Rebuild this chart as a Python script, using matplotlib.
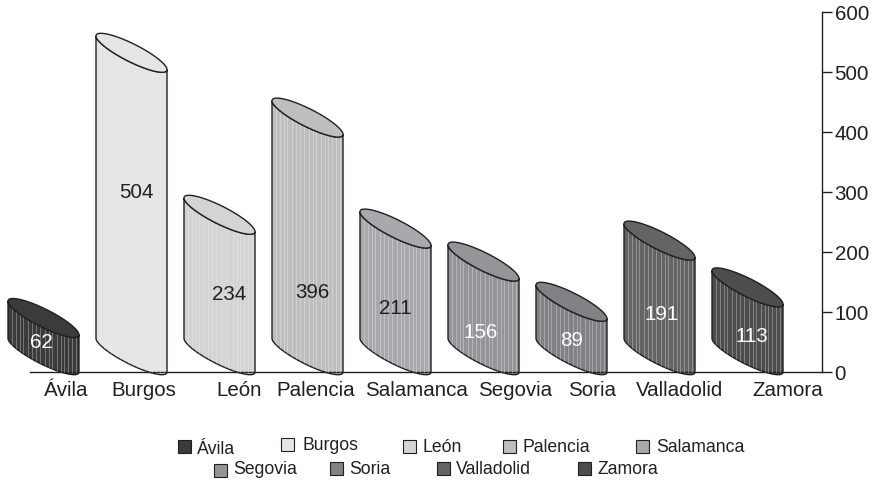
import numpy as np
import matplotlib.pyplot as plt
from matplotlib.patches import Polygon, Rectangle

plt.rcParams['font.family'] = ['Liberation Sans', 'DejaVu Sans']

# datos
provincias = ['Ávila', 'Burgos', 'León', 'Palencia', 'Salamanca', 'Segovia', 'Soria', 'Valladolid', 'Zamora']
valores = [62, 504, 234, 396, 211, 156, 89, 191, 113]
colores = ['#3b3b3c', '#e4e5e7', '#d3d4d6', '#bcbec0', '#a7a9ac', '#939598', '#808285', '#636466', '#4d4d4f']
colores_texto = ['white', '#231f20', '#231f20', '#231f20', '#231f20', 'white', 'white', 'white', 'white']
ticks_y = [0, 100, 200, 300, 400, 500, 600]

W, H = 874, 481
fig = plt.figure(figsize=(W / 100, H / 100), dpi=100)
ax = fig.add_axes([30 / W, 1 - 373 / H, 792 / W, 360 / H])
ax.set_xlim((30 - 43.5) / 88, (822 - 43.5) / 88)
ax.set_ylim(0, 600)

semi_ancho = 35.5 / 88   # medio ancho de la barra
inclinacion = 56 / 2     # la elipse baja hacia la derecha
menor = 16.5
t = np.linspace(0, 2 * np.pi, 121)
t_abajo = np.linspace(np.pi, 2 * np.pi, 61)
rayas = np.array([-0.88, -0.77, -0.66, -0.57, -0.44, -0.33, -0.2, -0.1, 0.03, 0.15, 0.25, 0.37, 0.48, 0.58, 0.7, 0.81, 0.92])

def elipse(c, base, tt):
    return c + semi_ancho * np.cos(tt), base + inclinacion * (1 - np.cos(tt)) + menor * np.sin(tt)

for i, (v, col) in enumerate(zip(valores, colores)):
    xb, yb = elipse(i, 0, t_abajo)
    xt, yt = elipse(i, v, t_abajo[::-1])
    cuerpo = Polygon(np.column_stack([np.r_[xb, xt], np.r_[yb, yt]]), closed=True,
                     fc=col, ec='#231f20', lw=1.0, clip_on=False, zorder=2)
    ax.add_patch(cuerpo)
    # rayas verticales del cilindro
    tono = 'white' if i not in (1, 2) else '#f1f2f3'
    for r in rayas:
        ax.plot([i + r * semi_ancho] * 2, [0, 600], color=tono, lw=0.7, alpha=0.3,
                clip_path=cuerpo, zorder=3)
    xe, ye = elipse(i, v, t)
    ax.add_patch(Polygon(np.column_stack([xe, ye]), closed=True, fc=col, ec='#231f20', lw=1.0,
                         clip_on=False, zorder=4))

# etiquetas de valor (posicion en px)
x_valor = [41, 136, 229, 312, 395, 481, 572, 662, 752]
y_valor = [343, 193, 295, 292, 309, 332, 341, 315, 337]
for i, v in enumerate(valores):
    fig.text(x_valor[i] / W, 1 - y_valor[i] / H, str(v), ha='center', va='center', fontsize=14.8,
             color=colores_texto[i], zorder=6)

# ejes
for lado in ('top', 'left'):
    ax.spines[lado].set_visible(False)
ax.spines['right'].set_linewidth(1.0)
ax.spines['right'].set_color('#231f20')
ax.spines['bottom'].set_linewidth(1.0)
ax.spines['bottom'].set_color('#231f20')
ax.set_xticks([])
ax.yaxis.tick_right()
ax.set_yticks(ticks_y)
ax.tick_params(axis='y', length=7, width=1.0, color='#231f20', labelsize=14.8, labelcolor='#231f20', pad=2)
ax.patch.set_alpha(0)

x_etiqueta = [66.5, 144, 239.5, 315.5, 416.5, 515, 592.5, 680, 788]
for x, nombre in zip(x_etiqueta, provincias):
    fig.text(x / W, 1 - 390 / H, nombre, ha='center', va='center', fontsize=14.8, color='#231f20')

# leyenda colocada a mano, como en el original
x_caja = [178, 281, 403, 503, 636, 214, 330, 437, 578]
y_caja = [447, 445, 447, 447, 447, 471, 469, 469, 469]
x_texto = [197, 302, 423, 523, 656, 233, 349, 456, 597]
y_texto = [450, 446, 448, 448, 448, 470, 470, 470, 470]
for i, nombre in enumerate(provincias):
    fig.add_artist(Rectangle((x_caja[i] / W, 1 - (y_caja[i] + 6.5) / H), 13 / W, 13 / H,
                             transform=fig.transFigure, fc=colores[i], ec='#231f20', lw=0.8))
    fig.text(x_texto[i] / W, 1 - y_texto[i] / H, nombre, ha='left', va='center',
             fontsize=12.7, color='#231f20')

fig.savefig('out.png', dpi=100)
